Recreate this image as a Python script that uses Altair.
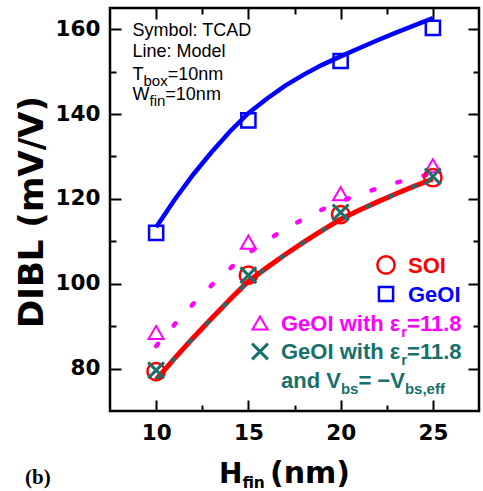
import altair as alt
import pandas as pd

# ---------------- data ----------------
H_TCAD = [10, 15, 20, 25]
SOI_TCAD = [79.3, 102.0, 116.3, 125.0]
GEOI_TCAD = [112.0, 138.5, 152.5, 160.3]
GEOI_ER_TCAD = [88.5, 109.8, 121.2, 127.8]
GEOI_ER_VBS_TCAD = [79.6, 102.0, 116.8, 125.3]

H_MODEL = [10, 11, 12, 13, 14, 15, 16, 17, 18, 19, 20, 21, 22, 23, 24, 25]
GEOI_MODEL = [113.3, 119.8, 125.7, 131.0, 135.9, 140.2, 143.6, 146.7,
              149.3, 151.6, 153.6, 155.5, 157.4, 159.2, 160.9, 162.6]
SOI_MODEL = [77.4, 82.4, 87.2, 91.8, 96.3, 100.6, 103.8, 106.9,
             109.8, 112.6, 115.2, 117.3, 119.3, 121.2, 123.0, 124.7]
GEOI_ER_MODEL = [85.3, 90.4, 95.2, 99.6, 103.6, 107.2, 110.2, 112.9,
                 115.3, 117.5, 119.4, 121.0, 122.5, 123.8, 125.0, 126.0]
GEOI_ER_VBS_MODEL = [77.4, 82.4, 87.2, 91.8, 96.3, 100.6, 103.8, 106.9,
                     109.8, 112.6, 115.2, 117.3, 119.3, 121.2, 123.0, 124.7]

X_DOMAIN = [7.5, 27.5]
Y_DOMAIN = [70, 165]
X_MAJOR = [10, 15, 20, 25]
X_MINOR = [12.5, 17.5, 22.5]
Y_MAJOR = [80, 100, 120, 140, 160]
Y_MINOR = [90, 110, 130, 150]

# ---------------- layout ----------------
PL, PT, PW, PH = 110, 8, 369, 403
RED, BLUE, MAG, TEAL = "#ff0000", "#0000ff", "#ff00ff", "#17706c"

tcad = pd.DataFrame({"h": H_TCAD, "soi": SOI_TCAD, "geoi": GEOI_TCAD,
                     "er": GEOI_ER_TCAD, "erv": GEOI_ER_VBS_TCAD})
model = pd.DataFrame({"h": H_MODEL, "soi": SOI_MODEL, "geoi": GEOI_MODEL,
                      "er": GEOI_ER_MODEL, "erv": GEOI_ER_VBS_MODEL})

xs = alt.Scale(domain=X_DOMAIN, nice=False, zero=False)
ys = alt.Scale(domain=Y_DOMAIN, nice=False, zero=False)


def X(axis=None):
    return alt.X("h:Q", scale=xs, axis=axis)


def Y(f, axis=None):
    return alt.Y(f + ":Q", scale=ys, axis=axis)


layers = []

# model lines
layers.append(alt.Chart(model).mark_line(color=MAG, strokeWidth=4.5, strokeDash=[3, 24],
                                         strokeCap="round").encode(x=X(), y=Y("er")))
layers.append(alt.Chart(model).mark_line(color=BLUE, strokeWidth=4.5).encode(x=X(), y=Y("geoi")))
layers.append(alt.Chart(model).mark_line(color=RED, strokeWidth=5).encode(x=X(), y=Y("soi")))
layers.append(alt.Chart(model).mark_line(color=TEAL, strokeWidth=3.5, strokeDash=[3, 22],
                                         strokeCap="round").encode(x=X(), y=Y("erv")))

# TCAD symbols
XSHAPE = "M-1,-1L1,1M-1,1L1,-1"
layers.append(alt.Chart(tcad).mark_point(shape="triangle-up", filled=False, color=MAG, size=230,
                                         strokeWidth=2, opacity=1).encode(x=X(), y=Y("er")))
layers.append(alt.Chart(tcad).mark_point(shape="square", filled=False, color=BLUE, size=200,
                                         strokeWidth=2.5, opacity=1).encode(x=X(), y=Y("geoi")))
layers.append(alt.Chart(tcad).mark_point(shape="circle", filled=False, color=RED, size=300,
                                         strokeWidth=2.5, opacity=1).encode(x=X(), y=Y("soi")))
layers.append(alt.Chart(tcad).mark_point(shape=XSHAPE, filled=False, color=TEAL, size=250,
                                         strokeWidth=3, opacity=1).encode(x=X(), y=Y("erv")))

# axes (ticks pointing inward on all four sides)
lab = dict(labelFont="DejaVu Sans", labelFontWeight="bold", labelFontSize=21.5, labelColor="black")
common = dict(domain=False, grid=False, tickColor="black", tickWidth=2, title=None)


def ax(orient, values, size, labels, pad=0):
    kw = dict(common)
    kw.update(orient=orient, values=values, tickSize=size, offset=-size)
    if labels:
        kw.update(lab)
        kw.update(labelPadding=pad, format="d")
    else:
        kw.update(labels=False)
    return alt.Axis(**kw)


for xo, yo, xv, yv, sz, labels in [
    ("bottom", "left", X_MAJOR, Y_MAJOR, 11, True),
    ("bottom", "left", X_MINOR, Y_MINOR, 6, False),
    ("top", "right", X_MAJOR, Y_MAJOR, 11, False),
    ("top", "right", X_MINOR, Y_MINOR, 6, False),
]:
    layers.append(alt.Chart(tcad).mark_point(opacity=0).encode(
        x=X(ax(xo, xv, sz, labels, 11)), y=Y("soi", ax(yo, yv, sz, labels, 10))))

# ---------------- text helpers ----------------
DJB = {" ": .348, "(": .457, ")": .457, "H": .835, "f": .435, "i": .343, "n": .712, "m": 1.042}
ARB = {" ": .278, "−": .584, "=": .584, ".": .278, ",": .278, "1": .556, "8": .556,
       "G": .778, "I": .278, "O": .778, "S": .667, "V": .667, "a": .556, "b": .611, "d": .611,
       "e": .556, "f": .333, "h": .611, "i": .278, "n": .611, "r": .389, "s": .556, "t": .333,
       "w": .778, "ε": .52}
ARI = {" ": .278, "=": .584, "0": .556, "1": .556, "T": .611, "W": .944, "b": .556, "o": .556,
       "x": .5, "f": .278, "i": .222, "n": .556, "m": .833}
ONE = [{}]


def text(s, x, y, size, color="black", font="DejaVu Sans", weight="bold", angle=0,
         align="left", baseline="alphabetic"):
    kw = dict(text=s, font=font, fontSize=size, fontWeight=weight, color=color,
              align=align, baseline=baseline)
    if angle:
        kw["angle"] = angle
    return alt.Chart(alt.Data(values=ONE)).mark_text(**kw).encode(
        x=alt.value(x - PL), y=alt.value(y - PT))


def rich(pieces, x0, base, size, subsize, drop, color="black", font="DejaVu Sans",
         weight="bold", widths=DJB):
    out = []
    x = x0
    for s, sub in pieces:
        fs = subsize if sub else size
        out.append(text(s, x, base + (drop if sub else 0), fs, color, font, weight))
        x += sum(widths.get(c, .6) for c in s) * fs
    return out


# annotation block (regular)
RF = "Liberation Sans"
layers.append(text("Symbol: TCAD", 132.5, 36, 18, font=RF, weight="normal"))
layers.append(text("Line: Model", 132.5, 57, 18, font=RF, weight="normal"))
layers += rich([("T", 0), ("box", 1), ("=10nm", 0)], 132.5, 80, 18, 15, 6,
               font=RF, weight="normal", widths=ARI)
layers += rich([("W", 0), ("fin", 1), ("=10nm", 0)], 132.5, 99.5, 18, 15, 6,
               font=RF, weight="normal", widths=ARI)

# legend
LF, LS, LSS, LD = "Liberation Sans", 22, 15, 5.5
for shape, col, cx, cy, size, sw in [
    ("circle", RED, 386, 265, 300, 2.5),
    ("square", BLUE, 386, 294, 200, 2.5),
    ("triangle-up", MAG, 260, 323, 230, 2),
    (XSHAPE, TEAL, 260, 351.5, 250, 3),
]:
    layers.append(alt.Chart(alt.Data(values=ONE)).mark_point(
        shape=shape, filled=False, color=col, size=size, strokeWidth=sw, opacity=1).encode(
        x=alt.value(cx - PL), y=alt.value(cy - PT)))
layers.append(text("SOI", 408, 273, LS, RED, font=LF))
layers.append(text("GeOI", 408, 302, LS, BLUE, font=LF))
layers += rich([("GeOI with ε", 0), ("r", 1), ("=11.8", 0)], 281, 331, LS, LSS, LD, MAG,
               font=LF, widths=ARB)
layers += rich([("GeOI with ε", 0), ("r", 1), ("=11.8", 0)], 281, 359, LS, LSS, LD, TEAL,
               font=LF, widths=ARB)
layers += rich([("and V", 0), ("bs", 1), ("= −V", 0), ("bs,eff", 1)], 281, 388, LS, LSS, LD,
               TEAL, font=LF, widths=ARB)

# axis titles
layers.append(text("DIBL (mV/V)", 32.5, 212, 34, angle=270, align="center", baseline="middle"))
layers += rich([("H", 0), ("fin", 1)], 219, 483, 28, 15.5, 5)
layers.append(text("(nm)", 270, 483, 30))
layers.append(text("(b)", 25, 484, 21, font="Liberation Serif"))

chart = alt.layer(*layers).resolve_axis(x="independent", y="independent").properties(
    width=PW, height=PH,
    autosize=alt.AutoSizeParams(type="none"),
    padding={"left": PL, "top": PT, "right": 483 - PL - PW, "bottom": 491 - PT - PH},
).configure_view(stroke="black", strokeWidth=2.5)

chart.save("out.html", embed_options={"renderer": "svg", "actions": False})
